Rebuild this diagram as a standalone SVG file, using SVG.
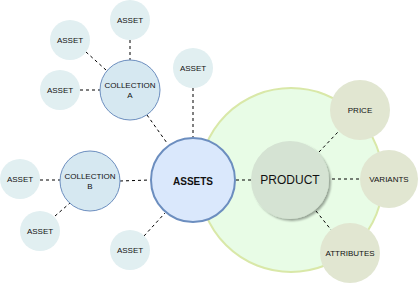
<svg xmlns="http://www.w3.org/2000/svg" width="419" height="284" viewBox="0 0 419 284">
<defs>
<style>
text{font-family:"Liberation Sans",Arial,sans-serif;fill:#111;text-anchor:middle;dominant-baseline:central}
.asset{fill:#e1eff1}
.coll{fill:#d6e8f1;stroke:#6c8ebf;stroke-width:1}
.sub{fill:#e1e6d1}
.t8{font-size:8px}
.con line{stroke:#000;stroke-width:1;stroke-dasharray:3 3}
</style>
<filter id="sh" x="-20%" y="-20%" width="150%" height="150%">
<feGaussianBlur in="SourceAlpha" stdDeviation="1"/>
<feOffset dx="2" dy="2" result="b"/>
<feComponentTransfer><feFuncA type="linear" slope="0.35"/></feComponentTransfer>
<feMerge><feMergeNode/><feMergeNode in="SourceGraphic"/></feMerge>
</filter>
</defs>
<rect width="419" height="284" fill="#fff"/>
<g id="product-area"><circle cx="291" cy="180" r="92" fill="#e8fce6" stroke="#d9e8a8" stroke-width="2"/></g>
<g class="con" id="connectors">
<line x1="130" y1="40" x2="130" y2="60"/>
<line x1="86" y1="52" x2="106" y2="70"/>
<line x1="80" y1="90" x2="100" y2="90"/>
<line x1="147" y1="115" x2="167" y2="143"/>
<line x1="193" y1="88" x2="193" y2="137" stroke="#555" stroke-width="1.5"/>
<line x1="40" y1="180" x2="60" y2="180"/>
<line x1="55" y1="216" x2="70" y2="203"/>
<line x1="120" y1="181" x2="150" y2="180"/>
<line x1="144" y1="236" x2="165" y2="213"/>
<line x1="236" y1="180" x2="251" y2="180"/>
<line x1="319" y1="152" x2="338" y2="132"/>
<line x1="332" y1="179" x2="361" y2="179"/>
<line x1="316" y1="211" x2="332" y2="231"/>
</g>
<g id="asset-1"><circle class="asset" cx="130" cy="20" r="20"/><text class="t8" x="130" y="20">ASSET</text></g>
<g id="asset-2"><circle class="asset" cx="70" cy="40" r="20"/><text class="t8" x="70" y="40">ASSET</text></g>
<g id="asset-3"><circle class="asset" cx="60" cy="90" r="20"/><text class="t8" x="60" y="90">ASSET</text></g>
<g id="asset-4"><circle class="asset" cx="193" cy="68" r="20"/><text class="t8" x="193" y="68">ASSET</text></g>
<g id="asset-5"><circle class="asset" cx="20" cy="179" r="20"/><text class="t8" x="20" y="179">ASSET</text></g>
<g id="asset-6"><circle class="asset" cx="40" cy="231" r="20"/><text class="t8" x="40" y="231">ASSET</text></g>
<g id="asset-7"><circle class="asset" cx="130" cy="250" r="20"/><text class="t8" x="130" y="250">ASSET</text></g>
<g id="collection-a"><circle class="coll" cx="130" cy="90" r="30"/><text class="t8" x="130" y="85">COLLECTION</text><text class="t8" x="130" y="95">A</text></g>
<g id="collection-b"><circle class="coll" cx="90" cy="181" r="30"/><text class="t8" x="90" y="176">COLLECTION</text><text class="t8" x="90" y="186">B</text></g>
<g id="assets"><circle cx="193" cy="180" r="42" fill="#dae8fc" stroke="#6c8ebf" stroke-width="2"/><text x="193" y="181" font-size="10" font-weight="bold">ASSETS</text></g>
<g id="product"><circle cx="290" cy="180" r="39" fill="#d5e3d3" filter="url(#sh)"/><text x="290" y="180" font-size="12">PRODUCT</text></g>
<g id="price"><circle class="sub" cx="360" cy="110" r="30"/><text class="t8" x="360" y="110">PRICE</text></g>
<g id="variants"><circle class="sub" cx="389" cy="179" r="29"/><text class="t8" x="389" y="179">VARIANTS</text></g>
<g id="attributes"><circle class="sub" cx="350" cy="253" r="30"/><text class="t8" x="350" y="253">ATTRIBUTES</text></g>
</svg>
